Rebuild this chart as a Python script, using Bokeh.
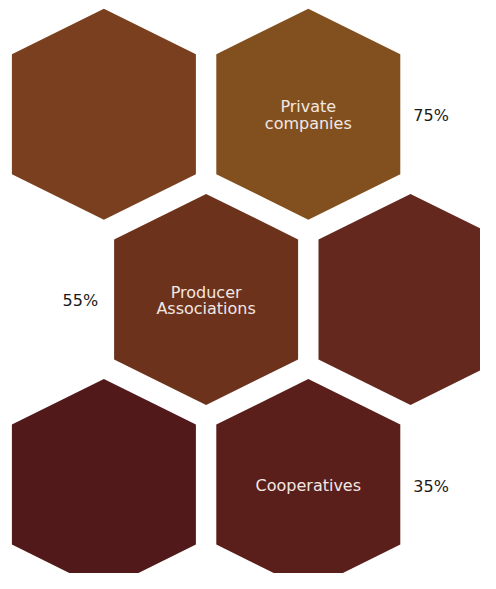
from bokeh.plotting import figure
from bokeh.models import ColumnDataSource, Range1d
from bokeh.core.properties import value
from bokeh.embed import file_html
from bokeh.resources import INLINE

# ---- data ----
labels = ["", "Private\ncompanies", "Producer\nAssociations", "", "", "Cooperatives"]
percent = ["", "75%", "55%", "", "", "35%"]
pct_side = ["", "right", "left", "", "", "right"]
colors = ["#7A3F1E", "#82501E", "#6C321C", "#65281E", "#511919", "#5B1F1B"]
grid_col = [0, 1, 0.5, 1.5, 0, 1]
grid_row = [0, 0, 1, 1, 2, 2]

# ---- layout (page-pixel coordinates) ----
W, H = 480, 573
X0, Y0 = 103.4, 113.7   # centre of the first hexagon
DX, DY = 204.4, 185.2   # spacing between hexagons
HW, HV, HS = 92.0, 105.5, 60.0  # half width, vertex offset, shoulder offset
LINE = 16.7

cx = [X0 + c * DX for c in grid_col]
cy = [Y0 + r * DY for r in grid_row]

xs = [[x, x + HW, x + HW, x, x - HW, x - HW] for x in cx]
ys = [[y - HV, y - HS, y + HS, y + HV, y + HS, y - HS] for y in cy]

p = figure(width=W, height=H, output_backend="svg", toolbar_location=None,
           x_range=Range1d(0, W), y_range=Range1d(H, 0),
           x_axis_type=None, y_axis_type=None,
           min_border=0, min_border_left=0, min_border_right=0,
           min_border_top=0, min_border_bottom=0)
p.grid.visible = False
p.outline_line_color = None
p.background_fill_color = "white"
p.border_fill_color = "white"

p.patches(xs=xs, ys=ys, fill_color=colors, line_color=None)

lx, ly, lt = [], [], []
for i, lab in enumerate(labels):
    if not lab:
        continue
    lines = lab.split("\n")
    n = len(lines)
    for k, ln in enumerate(lines):
        lx.append(cx[i])
        ly.append(cy[i] + 1 + (k - (n - 1) / 2) * LINE)
        lt.append(ln)

lab_src = ColumnDataSource(dict(x=lx, y=ly, text=lt))
p.text(x="x", y="y", text="text", source=lab_src, text_align="center",
       text_baseline="middle", text_color="#F2E8E4",
       text_font=value("DejaVu Sans"), text_font_size="16px")

px, py, pt, pa = [], [], [], []
for i in range(len(percent)):
    if not percent[i]:
        continue
    if pct_side[i] == "right":
        px.append(cx[i] + HW + 13)
        pa.append("left")
    else:
        px.append(cx[i] - HW - 16)
        pa.append("right")
    py.append(cy[i] + 1.5)
    pt.append(percent[i])

pct_src = ColumnDataSource(dict(x=px, y=py, text=pt, align=pa))
p.text(x="x", y="y", text="text", source=pct_src, text_align="align",
       text_baseline="middle", text_color="#1a1a1a",
       text_font=value("DejaVu Sans"), text_font_size="16px")

open("out.html", "w").write(file_html(p, INLINE))
